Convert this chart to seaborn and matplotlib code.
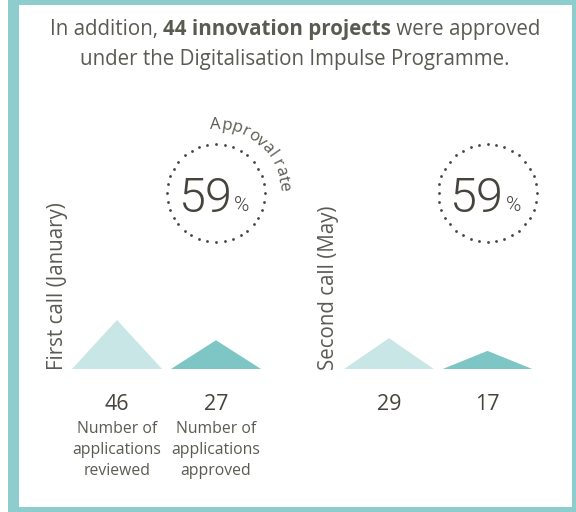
import numpy as np
import matplotlib
matplotlib.use("Agg")
import matplotlib.pyplot as plt
from matplotlib.patches import Rectangle
import seaborn as sns

# ---------------- data ----------------
calls = ["First call (January)", "Second call (May)"]
reviewed = [46, 29]
approved = [27, 17]
approval_rate = [59, 59]
metric_labels = ["Number of\napplications\nreviewed", "Number of\napplications\napproved"]
title_pre = "In addition, "
title_bold = "44 innovation projects"
title_post = " were approved"
title_line2 = "under the Digitalisation Impulse Programme."
rate_label = "Approval rate"

# ---------------- style ----------------
sns.set_theme(style="white")
FONT = "Open Sans"
plt.rcParams["font.family"] = [FONT, "DejaVu Sans"]

FRAME = "#8DCDCD"
LIGHT = "#C9E6E7"
DARK = "#7EC6C6"
TXT = "#5B5A52"
NUM = "#46433C"

W, H = 576, 512
fig = plt.figure(figsize=(W / 100, H / 100), dpi=100)
fig.patch.set_facecolor("white")

bg = fig.add_axes([0, 0, 1, 1])
bg.set_xlim(0, W)
bg.set_ylim(H, 0)
bg.axis("off")

# frame
for (x, y, w, h) in [(8, 0, W - 8, 5), (8, 0, 11, H), (572, 0, 4, H), (8, 507, W - 8, 5)]:
    bg.add_patch(Rectangle((x, y), w, h, color=FRAME, lw=0, zorder=0))

renderer = fig.canvas.get_renderer()


def text_w(s, size, weight="normal", family=None):
    kw = {} if family is None else {"family": family}
    t = bg.text(0, 0, s, fontsize=size, fontweight=weight, **kw)
    bb = t.get_window_extent(renderer=renderer)
    t.remove()
    return bb.width


# title line 1 with mixed weights
tsize = 14.8
cx_title = 295
parts = [(title_pre, "normal"), (title_bold, "bold"), (title_post, "normal")]
widths = [text_w(p, tsize, wt) for p, wt in parts]
total = sum(widths)
x = cx_title - total / 2
for (p, wt), wd in zip(parts, widths):
    bg.text(x, 30, p, fontsize=tsize, fontweight=wt, color=TXT, ha="left", va="center")
    x += wd
bg.text(cx_title, 60, title_line2, fontsize=tsize, color=TXT, ha="center", va="center")

# ---------------- panels ----------------
px_per_unit = 49 / 46.0
panel_centers = [(117, 216), (389, 487.5)]
baseline_y = 369
ymax = 50
half = 0.455

for k in range(len(calls)):
    c0, c1 = panel_centers[k]
    step = c1 - c0
    left_px = c0 - step / 2
    width_px = 2 * step
    height_px = ymax * px_per_unit
    ax = fig.add_axes([left_px / W, (H - baseline_y) / H, width_px / W, height_px / H])
    ax.set_xlim(-0.5, 1.5)
    ax.set_ylim(0, ymax)
    ax.axis("off")
    vals = [reviewed[k], approved[k]]
    cols = [LIGHT, DARK]
    for i, v in enumerate(vals):
        ax.fill([i - half, i, i + half], [0, v, 0], color=cols[i], lw=0)
        ax.annotate(str(v), xy=(i, 0), xycoords="data", xytext=(0, -35),
                    textcoords="offset pixels", ha="center", va="center",
                    fontsize=15.5, color=NUM, annotation_clip=False)
        if k == 0:
            ax.annotate(metric_labels[i], xy=(i, 0), xycoords="data", xytext=(0, -81),
                        textcoords="offset pixels", ha="center", va="center",
                        fontsize=11.3, color=TXT, linespacing=1.45, annotation_clip=False)

    # call label (rotated)
    bg.text(left_px - 10 + (0 if k == 0 else -1), baseline_y + 1, calls[k], rotation=90,
            ha="center", va="bottom", fontsize=14.8, color=TXT)

    # dotted circle with rate
    disp = ax.transData.transform((1, 0))
    ccx = bg.transData.inverted().transform(disp)[0]
    ccy = 193
    r = 49
    ang = np.linspace(0, 2 * np.pi, 37)[:-1]
    bg.scatter(ccx + r * np.cos(ang), ccy - r * np.sin(ang), s=4, color=NUM, lw=0)
    bg.text(ccx + 16, ccy + 19, str(approval_rate[k]), fontsize=35, color=NUM,
            ha="right", va="baseline", family=["Roboto", "Open Sans"], fontweight=300)
    bg.text(ccx + 18, ccy + 18, "%", fontsize=15, color=NUM, ha="left", va="baseline",
            family=["Roboto", "Open Sans"], fontweight=300)

    if k == 0:
        # curved label
        rr = 64
        fs = 12
        start = np.deg2rad(95)
        cum = 0.0
        track = 0.0
        for j, ch in enumerate(rate_label):
            if ch == " ":
                wch = text_w("a a", fs) - text_w("aa", fs)
            else:
                wch = text_w(ch, fs)
            mid = cum + wch / 2
            th = start - mid / rr
            bg.text(ccx + rr * np.cos(th), ccy - rr * np.sin(th), ch, fontsize=fs,
                    color=TXT, rotation=np.rad2deg(th) - 90, rotation_mode="anchor",
                    ha="center", va="baseline")
            cum += wch + track

fig.savefig("out.png", dpi=100, facecolor="white")
